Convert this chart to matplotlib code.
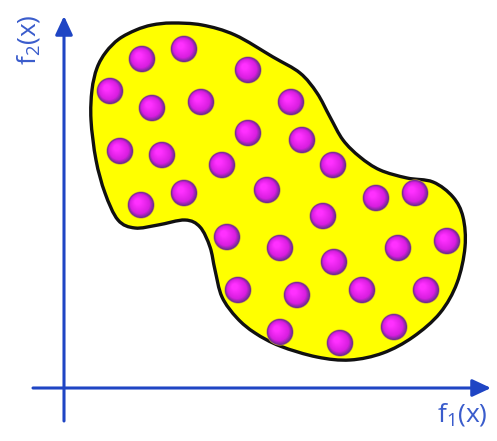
import numpy as np
import matplotlib
matplotlib.use("Agg")
import matplotlib.pyplot as plt
from matplotlib.path import Path
from matplotlib.patches import PathPatch, Circle

plt.rcParams['font.family'] = ['Open Sans', 'DejaVu Sans']
plt.rcParams['mathtext.default'] = 'regular'

# Ball (solution) centres, in picture units
ball_x = [142, 184, 248, 110, 152, 201, 291, 248, 302, 120, 162, 222, 333, 267,
          141, 184, 376, 415, 323, 227, 280, 398, 447, 334, 238, 297, 362, 426,
          280, 394, 340]
ball_y = [59, 49, 70, 91, 108, 102, 102, 133, 140, 151, 155, 165, 165, 190,
          205, 193, 198, 193, 216, 237, 248, 248, 241, 262, 290, 295, 290, 290,
          332, 327, 343]
ball_radius = 13

# Outline of the feasible region
outline_x = [172, 202, 235, 273, 300, 317, 330, 343, 360, 380, 407, 433, 453, 463,
             465, 457, 440, 413, 383, 350, 317, 280, 255, 237, 222, 215, 210, 200,
             185, 158, 135, 118, 105, 96, 91, 92, 97, 106, 119, 136, 152]
outline_y = [23, 25, 35, 57, 73, 93, 117, 140, 157, 170, 178, 182, 197, 217,
             247, 283, 313, 337, 353, 360, 357, 346, 333, 318, 297, 270, 247, 227,
             220, 225, 228, 220, 193, 160, 120, 90, 68, 52, 39, 30, 25]

x_label = "f$_1$(x)"
y_label = "f$_2$(x)"

W, H = 497, 441
fig = plt.figure(figsize=(W / 100, H / 100), dpi=100)
ax = fig.add_axes([0, 0, 1, 1])
ax.set_xlim(0, W)
ax.set_ylim(H, 0)
ax.axis('off')

# Closed Catmull-Rom -> cubic Bezier path
px = np.array(outline_x, float)
py = np.array(outline_y, float)
n = len(px)
verts = [(px[0], py[0])]
codes = [Path.MOVETO]
for i in range(n):
    p0 = np.array([px[i - 1], py[i - 1]])
    p1 = np.array([px[i], py[i]])
    p2 = np.array([px[(i + 1) % n], py[(i + 1) % n]])
    p3 = np.array([px[(i + 2) % n], py[(i + 2) % n]])
    c1 = p1 + (p2 - p0) / 6
    c2 = p2 - (p3 - p1) / 6
    verts += [tuple(c1), tuple(c2), tuple(p2)]
    codes += [Path.CURVE4] * 3
verts.append(verts[0])
codes.append(Path.CLOSEPOLY)
shape = PathPatch(Path(verts, codes), facecolor='#ffff00', edgecolor='#111111',
                  lw=2.4, zorder=2)
ax.add_patch(shape)

# Balls with shaded look
dark = np.array(matplotlib.colors.to_rgb('#702c90'))
mid = np.array(matplotlib.colors.to_rgb('#d81ee0'))
bright = np.array(matplotlib.colors.to_rgb('#ff30ff'))
N = 14
for bx, by in zip(ball_x, ball_y):
    ax.add_patch(Circle((bx, by), ball_radius + 0.6, facecolor='#c8a040',
                        edgecolor='none', zorder=3))
    for k in range(N):
        t = k / (N - 1)
        r = ball_radius * (1 - 0.75 * t)
        off = 0.25 * ball_radius * t
        if t < 0.3:
            c = dark + (mid - dark) * (t / 0.3)
        else:
            c = mid + (bright - mid) * ((t - 0.3) / 0.7)
        ax.add_patch(Circle((bx - off, by - off), r, facecolor=c,
                            edgecolor='none', zorder=4 + k * 0.01))

blue = '#1f45c4'
ax.annotate('', xy=(64, 16), xytext=(64, 421),
            arrowprops=dict(arrowstyle='-|>,head_length=0.75,head_width=0.35',
                            mutation_scale=15, lw=2.2, color=blue,
                            shrinkA=0, shrinkB=0), zorder=1)
ax.annotate('', xy=(491, 388), xytext=(33, 388),
            arrowprops=dict(arrowstyle='-|>,head_length=0.75,head_width=0.35',
                            mutation_scale=15, lw=2.2, color=blue,
                            shrinkA=0, shrinkB=0), zorder=1)

txt_color = '#3a5ccc'
ax.text(462, 414, x_label, fontsize=19, color=txt_color, ha='center', va='center')
ax.text(28, 40, y_label, fontsize=19, color=txt_color, ha='center', va='center',
        rotation=90)

fig.savefig('out.png', dpi=100)
